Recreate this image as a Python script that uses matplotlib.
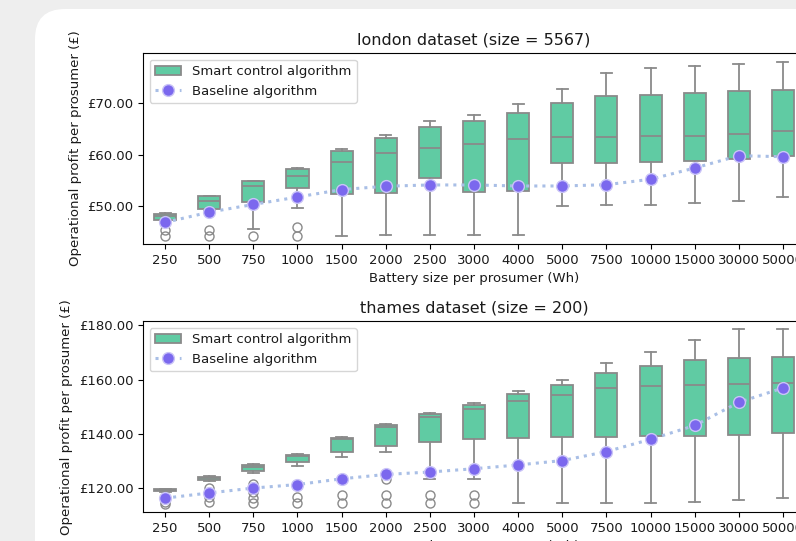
import matplotlib
matplotlib.use("Agg")
import matplotlib.pyplot as plt
from matplotlib.patches import FancyBboxPatch
from matplotlib.transforms import IdentityTransform
from matplotlib.ticker import FuncFormatter

# ---------------- data ----------------
battery_sizes = ["250", "500", "750", "1000", "1500", "2000", "2500", "3000",
                 "4000", "5000", "7500", "10000", "15000", "30000", "50000"]

# london dataset (size = 5567)
london_whislo = [47.2, 49.0, 45.6, 49.7, 44.25, 44.45, 44.45, 44.45, 44.45, 50.0, 50.2, 50.2, 50.5, 50.9, 51.7]
london_q1     = [47.3, 49.4, 50.7, 53.6, 52.3, 52.5, 55.5, 52.7, 52.9, 58.35, 58.35, 58.55, 58.75, 59.1, 59.65]
london_med    = [48.1, 51.0, 53.8, 55.8, 58.55, 60.4, 61.3, 62.1, 63.0, 63.4, 63.4, 63.6, 63.6, 64.0, 64.7]
london_q3     = [48.5, 51.9, 54.8, 57.3, 60.8, 63.3, 65.4, 66.6, 68.2, 70.1, 71.45, 71.6, 71.95, 72.35, 72.65]
london_whishi = [48.6, 52.0, 54.9, 57.4, 61.15, 63.9, 66.6, 67.7, 69.9, 72.7, 75.9, 76.9, 77.3, 77.6, 78.0]
london_fliers = [[45.4, 44.25], [45.4, 44.25], [44.25], [45.9, 44.25], [], [], [], [], [], [], [], [], [], [], []]
london_baseline = [46.8, 48.8, 50.3, 51.75, 53.2, 53.85, 54.1, 54.1, 53.9, 53.9, 54.15, 55.2, 57.4, 59.8, 59.6]

# thames dataset (size = 200)
thames_whislo = [118.8, 122.7, 125.8, 128.1, 131.4, 133.2, 123.6, 123.6, 114.7, 114.7, 114.7, 114.7, 115.1, 115.8, 116.4]
thames_q1     = [118.9, 123.2, 126.4, 129.7, 133.2, 135.6, 136.9, 138.0, 138.4, 138.8, 138.8, 139.1, 139.1, 139.6, 140.4]
thames_med    = [119.3, 123.8, 127.8, 131.8, 138.1, 142.6, 146.3, 149.0, 152.2, 154.3, 156.9, 157.6, 158.0, 158.3, 158.8]
thames_q3     = [119.7, 124.3, 128.4, 132.2, 138.4, 143.3, 147.3, 150.6, 154.7, 157.9, 162.5, 164.9, 167.2, 167.9, 168.3]
thames_whishi = [119.8, 124.7, 128.8, 132.5, 138.9, 143.7, 147.7, 151.2, 155.8, 159.7, 166.0, 170.0, 174.7, 178.5, 178.5]
thames_fliers = [[114.9, 114.1], [120.1, 116.8, 114.9], [121.7, 118.6, 116.6, 114.6], [116.8, 114.6],
                 [117.4, 114.6], [123.3, 117.4, 114.6], [117.4, 114.6], [117.4, 114.6],
                 [], [], [], [], [], [], []]
thames_baseline = [116.4, 118.3, 120.1, 121.4, 123.5, 125.1, 126.0, 127.2, 128.6, 130.2, 133.5, 138.0, 143.1, 151.6, 156.9]

titles = ["london dataset (size = 5567)", "thames dataset (size = 200)"]
xlabel = "Battery size per prosumer (Wh)"
ylabel = "Operational profit per prosumer (£)"
box_label = "Smart control algorithm"
base_label = "Baseline algorithm"

# ---------------- style ----------------
W, H = 796, 541
BG = "#eeeeee"
BOX_FILL = "#60cba3"
LINE_GRAY = "#8a8a8a"
MARKER = "#7b68ee"
DOT_LINE = "#a9bfe6"
FS = 9.55
TITLE_FS = 11.5
TEXT_COLOR = "#1a1a1a"

plt.rcParams["text.color"] = TEXT_COLOR
plt.rcParams["axes.labelcolor"] = TEXT_COLOR
plt.rcParams["xtick.labelcolor"] = TEXT_COLOR
plt.rcParams["ytick.labelcolor"] = TEXT_COLOR

fig = plt.figure(figsize=(W / 100, H / 100), dpi=100)
fig.patch.set_facecolor(BG)

card = FancyBboxPatch((35, -100), W + 100, H - 9 + 100,
                      boxstyle="round,pad=0,rounding_size=30",
                      transform=IdentityTransform(), facecolor="white",
                      edgecolor="none", zorder=-10)
fig.patches.append(card)


def make_panel(rect, whislo, q1, med, q3, whishi, fliers, baseline, title, ylim):
    ax = fig.add_axes(rect)
    ax.set_facecolor("white")
    pos = list(range(len(battery_sizes)))
    stats = []
    for i in pos:
        stats.append(dict(whislo=whislo[i], q1=q1[i], med=med[i], q3=q3[i],
                          whishi=whishi[i], fliers=fliers[i]))
    bp = ax.bxp(stats, positions=pos, widths=0.5, patch_artist=True,
                capwidths=0.25, manage_ticks=False,
                boxprops=dict(facecolor=BOX_FILL, edgecolor=LINE_GRAY, linewidth=1.3),
                whiskerprops=dict(color=LINE_GRAY, linewidth=1.3),
                capprops=dict(color=LINE_GRAY, linewidth=1.3),
                medianprops=dict(color=LINE_GRAY, linewidth=1.3),
                flierprops=dict(marker="o", markerfacecolor="none",
                                markeredgecolor=LINE_GRAY, markersize=6.5,
                                markeredgewidth=1.0))
    bp["boxes"][0].set_label(box_label)
    ax.plot(pos, baseline, linestyle=":", color=DOT_LINE, linewidth=2.2,
            marker="o", markersize=8.5, markerfacecolor=MARKER,
            markeredgecolor="#c9c3f7", markeredgewidth=1.0, label=base_label,
            zorder=5)
    ax.set_xlim(-0.5, len(battery_sizes) - 0.5)
    ax.set_ylim(*ylim)
    ax.set_xticks(pos)
    ax.set_xticklabels(battery_sizes, fontsize=FS)
    ax.yaxis.set_major_formatter(FuncFormatter(lambda v, p: "£%.2f" % v))
    ax.tick_params(axis="y", labelsize=FS)
    ax.set_title(title, fontsize=TITLE_FS)
    ax.set_xlabel(xlabel, fontsize=FS)
    ax.set_ylabel(ylabel, fontsize=FS)
    ax.legend(loc="upper left", fontsize=FS)
    return ax


make_panel([143 / W, (H - 244) / H, 662 / W, 191 / H],
           london_whislo, london_q1, london_med, london_q3, london_whishi,
           london_fliers, london_baseline, titles[0], (42.6, 79.8))
ax2 = make_panel([143 / W, (H - 512) / H, 662 / W, 190.7 / H],
                 thames_whislo, thames_q1, thames_med, thames_q3, thames_whishi,
                 thames_fliers, thames_baseline, titles[1], (111.3, 181.4))
ax2.set_yticks([120, 140, 160, 180])

fig.savefig("out.png", dpi=100, facecolor=BG)
